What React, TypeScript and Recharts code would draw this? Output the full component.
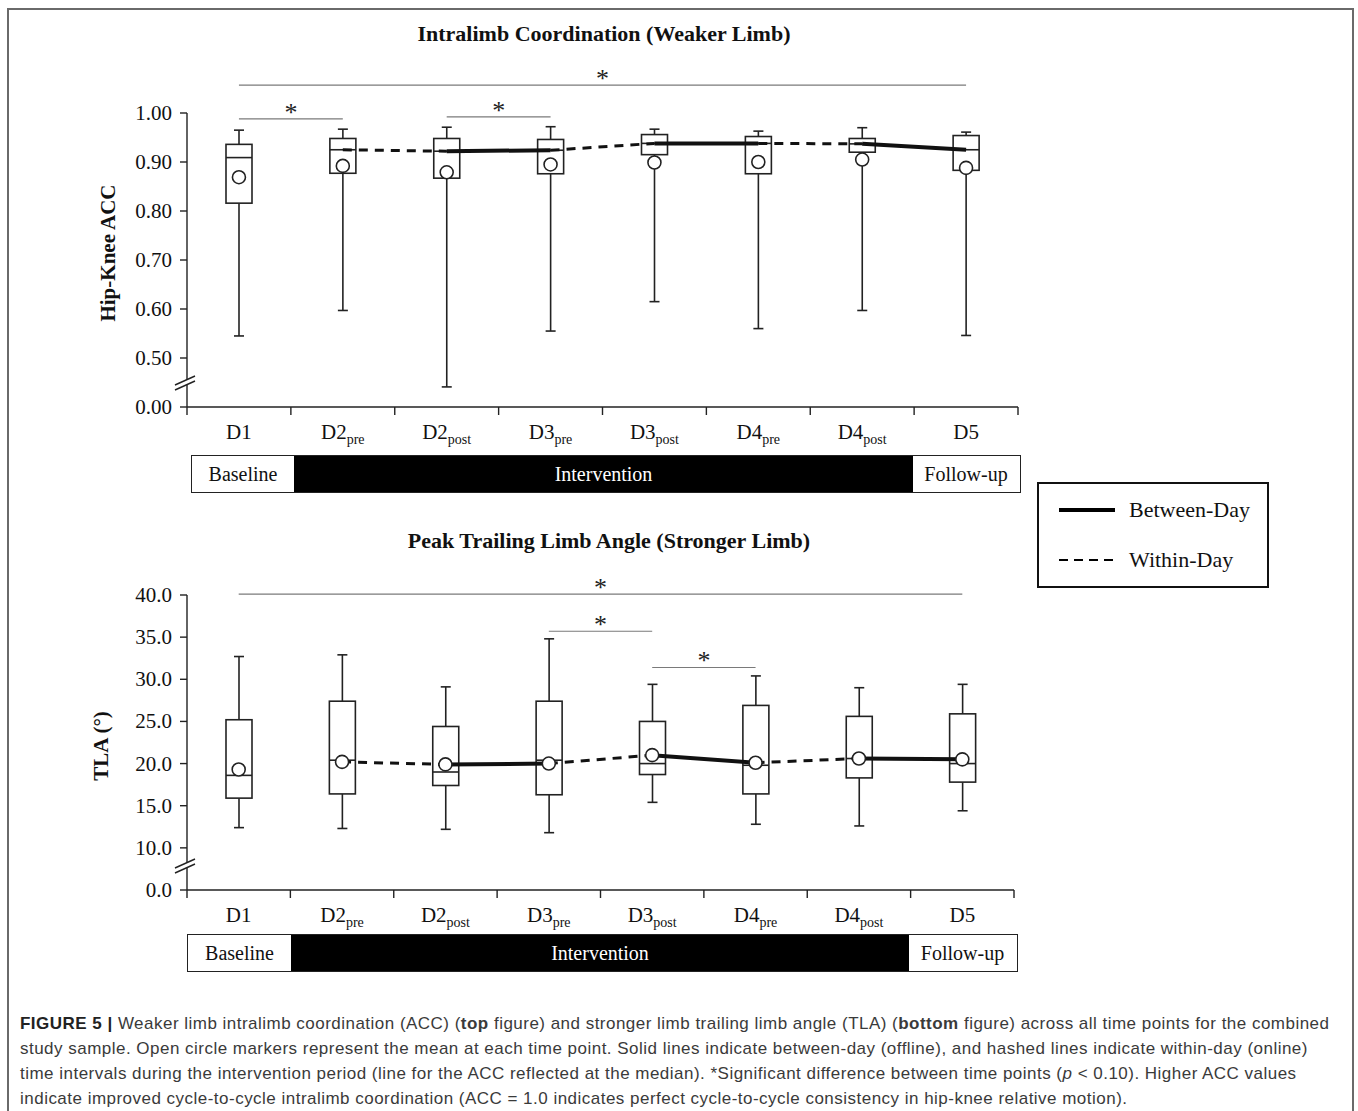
import React from "react";
import {
  ComposedChart,
  Bar,
  Line,
  Scatter,
  XAxis,
  YAxis,
  ReferenceLine,
} from "recharts";

const SERIF = '"Liberation Serif", "DejaVu Serif", serif';
const SANS = '"Liberation Sans", Arial, sans-serif';

// time points
const dayNames = ["D1", "D2", "D2", "D3", "D3", "D4", "D4", "D5"];
const dayPhases = ["", "pre", "post", "pre", "post", "pre", "post", ""];
const categories = dayNames.map((d, i) => d + dayPhases[i]);

// Hip-Knee ACC (weaker limb), read on the broken axis
const accMin = [0.545, 0.597, 0.441, 0.555, 0.615, 0.56, 0.597, 0.546];
const accQ1 = [0.816, 0.877, 0.867, 0.876, 0.915, 0.876, 0.92, 0.883];
const accMedian = [0.909, 0.925, 0.922, 0.924, 0.938, 0.938, 0.937, 0.925];
const accQ3 = [0.936, 0.948, 0.948, 0.946, 0.956, 0.952, 0.948, 0.954];
const accMax = [0.965, 0.967, 0.971, 0.972, 0.967, 0.963, 0.97, 0.961];
const accMean = [0.869, 0.892, 0.879, 0.895, 0.899, 0.9, 0.905, 0.888];
const accTicks = [0.4, 0.5, 0.6, 0.7, 0.8, 0.9, 1.0];

// Peak TLA (stronger limb)
const tlaMin = [12.4, 12.3, 12.2, 11.8, 15.4, 12.8, 12.6, 14.4];
const tlaQ1 = [15.9, 16.4, 17.4, 16.3, 18.7, 16.4, 18.3, 17.8];
const tlaMedian = [18.6, 20.4, 19.0, 20.4, 20.0, 19.8, 20.6, 20.0];
const tlaQ3 = [25.2, 27.4, 24.4, 27.4, 25.0, 26.9, 25.6, 25.9];
const tlaMax = [32.7, 32.9, 29.1, 34.8, 29.4, 30.4, 29.0, 29.4];
const tlaMean = [19.3, 20.2, 19.9, 20.0, 21.0, 20.1, 20.6, 20.5];
const tlaTicks = [5, 10, 15, 20, 25, 30, 35, 40];

// line segments (index pairs)
const betweenDay = [[2, 3], [4, 5], [6, 7]];
const withinDay = [[1, 2], [3, 4], [5, 6]];

// significance brackets
const accSig = [
  { from: 0, to: 7, y: 1.057 },
  { from: 0, to: 1, y: 0.988 },
  { from: 2, to: 3, y: 0.992 },
];
const tlaSig = [
  { from: 0, to: 7, y: 40.1 },
  { from: 3, to: 4, y: 35.7 },
  { from: 4, to: 5, y: 31.4 },
];

function buildRows(min, q1, med, q3, max, mean, lineVals) {
  return categories.map((name, i) => {
    const row: any = { name, min: min[i], q1: q1[i], med: med[i], q3: q3[i], max: max[i], mean: mean[i] };
    betweenDay.forEach(([a, b], k) => {
      row["b" + k] = i === a || i === b ? lineVals[i] : null;
    });
    withinDay.forEach(([a, b], k) => {
      row["w" + k] = i === a || i === b ? lineVals[i] : null;
    });
    return row;
  });
}

const accRows = buildRows(accMin, accQ1, accMedian, accQ3, accMax, accMean, accMedian);
const tlaRows = buildRows(tlaMin, tlaQ1, tlaMedian, tlaQ3, tlaMax, tlaMean, tlaMean);

const INK = "#222";

function BoxShape(props: any) {
  const { x, y, width, height, payload } = props;
  if (x == null || !payload) return null;
  const top = Math.min(y, y + height);
  const bot = Math.max(y, y + height);
  const span = payload.max - payload.min || 1;
  const py = (v: number) => bot - ((v - payload.min) / span) * (bot - top);
  const cx = x + width / 2;
  const cap = 5;
  return (
    <g stroke={INK} strokeWidth={1.6} fill="none">
      <line x1={cx} y1={py(payload.max)} x2={cx} y2={py(payload.q3)} />
      <line x1={cx} y1={py(payload.q1)} x2={cx} y2={py(payload.min)} />
      <line x1={cx - cap} y1={py(payload.max)} x2={cx + cap} y2={py(payload.max)} />
      <line x1={cx - cap} y1={py(payload.min)} x2={cx + cap} y2={py(payload.min)} />
      <rect x={x} y={py(payload.q3)} width={width} height={py(payload.q1) - py(payload.q3)} fill="#fff" />
      <line x1={x} y1={py(payload.med)} x2={x + width} y2={py(payload.med)} />
    </g>
  );
}

function MeanDot(props: any) {
  const { cx, cy } = props;
  if (cx == null || cy == null) return null;
  return <circle cx={cx} cy={cy} r={6.5} fill="#fff" stroke={INK} strokeWidth={1.6} />;
}

function makeXTick(half: number) {
  return (p: any) => {
    const { x, y, index } = p;
    const last = index === categories.length - 1;
    const sub = dayPhases[index];
    return (
      <g>
        <line x1={x - half} y1={y} x2={x - half} y2={y + 8} stroke={INK} strokeWidth={1.4} />
        {last && <line x1={x + half} y1={y} x2={x + half} y2={y + 8} stroke={INK} strokeWidth={1.4} />}
        <text x={x} y={y + 32} textAnchor="middle" fontFamily={SERIF} fontSize={21} fill="#111">
          {dayNames[index]}
          {sub && (
            <tspan fontSize={14} dy={5}>
              {sub}
            </tspan>
          )}
        </text>
      </g>
    );
  };
}

function makeYTick(format: (v: number) => string, breakValue: number, axisX: number) {
  return (p: any) => {
    const { x, y, payload } = p;
    const isBreak = payload.value === breakValue;
    return (
      <g>
        <text x={x} y={y} dy={7} textAnchor="end" fontFamily={SERIF} fontSize={21} fill="#111">
          {format(payload.value)}
        </text>
        {isBreak && (
          <g>
            <polygon
              points={`${axisX - 12},${y - 17} ${axisX + 8},${y - 26} ${axisX + 8},${y - 31} ${axisX - 12},${y - 22}`}
              fill="#fff"
            />
            <line x1={axisX - 12} y1={y - 17} x2={axisX + 8} y2={y - 26} stroke={INK} strokeWidth={1.4} />
            <line x1={axisX - 12} y1={y - 22} x2={axisX + 8} y2={y - 31} stroke={INK} strokeWidth={1.4} />
          </g>
        )}
      </g>
    );
  };
}

function BoxChart({
  rows,
  domain,
  ticks,
  format,
  sig,
  yLabel,
  labelX,
  labelY,
  margin,
  height,
}: any) {
  const plotW = 1358 - margin.left - margin.right - 187;
  const half = plotW / categories.length / 2;
  return (
    <ComposedChart width={1358} height={height} data={rows} margin={margin}>
      <XAxis
        dataKey="name"
        tick={makeXTick(half)}
        tickLine={false}
        tickSize={0}
        tickMargin={0}
        axisLine={{ stroke: INK, strokeWidth: 1.4 }}
        height={60}
        interval={0}
      />
      <YAxis
        type="number"
        domain={domain}
        ticks={ticks}
        width={187}
        tick={makeYTick(format, ticks[0], 187 + margin.left)}
        tickSize={7}
        tickMargin={8}
        tickLine={{ stroke: INK, strokeWidth: 1.4 }}
        axisLine={{ stroke: INK, strokeWidth: 1.4 }}
        allowDataOverflow
        label={() => (
          <text
            x={labelX}
            y={labelY}
            transform={`rotate(-90 ${labelX} ${labelY})`}
            textAnchor="middle"
            dominantBaseline="central"
            fontFamily={SERIF}
            fontWeight="bold"
            fontSize={21}
            fill="#111"
          >
            {yLabel}
          </text>
        )}
      />
      <Bar dataKey={(d: any) => [d.min, d.max]} barSize={26} shape={BoxShape} isAnimationActive={false} />
      {withinDay.map((_, k) => (
        <Line
          key={"w" + k}
          dataKey={"w" + k}
          stroke="#111"
          strokeWidth={3}
          strokeDasharray="9 7"
          dot={false}
          activeDot={false}
          isAnimationActive={false}
        />
      ))}
      {betweenDay.map((_, k) => (
        <Line
          key={"b" + k}
          dataKey={"b" + k}
          stroke="#111"
          strokeWidth={4}
          dot={false}
          activeDot={false}
          isAnimationActive={false}
        />
      ))}
      <Scatter dataKey="mean" shape={MeanDot} isAnimationActive={false} />
      {sig.map((s: any, k: number) => (
        <ReferenceLine
          key={"s" + k}
          segment={[
            { x: categories[s.from], y: s.y },
            { x: categories[s.to], y: s.y },
          ]}
          stroke="#7a7a7a"
          strokeWidth={1.2}
          ifOverflow="visible"
          label={{ value: "*", position: "top", offset: -2, fontSize: 26, fill: "#222", fontFamily: SERIF }}
        />
      ))}
    </ComposedChart>
  );
}

function PhaseBar({ left, top, width, blackFrom, blackTo }: any) {
  const cell = (w: number, dark: boolean, text: string) => (
    <div
      style={{
        width: w,
        height: "100%",
        background: dark ? "#000" : "#fff",
        color: dark ? "#fff" : "#111",
        display: "flex",
        alignItems: "center",
        justifyContent: "center",
        fontSize: 20,
        fontFamily: SERIF,
      }}
    >
      {text}
    </div>
  );
  return (
    <div
      style={{
        position: "absolute",
        left,
        top,
        width,
        height: 38,
        border: "1.5px solid #222",
        boxSizing: "border-box",
        display: "flex",
      }}
    >
      {cell(blackFrom - left, false, "Baseline")}
      {cell(blackTo - blackFrom, true, "Intervention")}
      {cell(left + width - blackTo - 3, false, "Follow-up")}
    </div>
  );
}

export default function App() {
  return (
    <div
      style={{
        position: "absolute",
        left: 0,
        top: 0,
        width: 1358,
        height: 1111,
        overflow: "hidden",
        background: "#fff",
        fontFamily: SERIF,
      }}
    >
      <div
        style={{
          position: "absolute",
          left: 7,
          top: 8,
          width: 1347,
          height: 1130,
          border: "2px solid #6a6a6a",
          boxSizing: "border-box",
        }}
      />
      <div
        style={{
          position: "absolute",
          left: 187,
          width: 834,
          top: 21,
          textAlign: "center",
          fontSize: 22,
          fontWeight: "bold",
          color: "#111",
        }}
      >
        Intralimb Coordination (Weaker Limb)
      </div>
      <div style={{ position: "absolute", left: 0, top: 0 }}>
        <BoxChart
          rows={accRows}
          domain={[0.4, 1.0]}
          ticks={accTicks}
          format={(v: number) => (v === 0.4 ? "0.00" : v.toFixed(2))}
          sig={accSig}
          yLabel="Hip-Knee ACC"
          labelX={108}
          labelY={253}
          margin={{ top: 113, right: 340, bottom: 33, left: 0 }}
          height={500}
        />
      </div>
      <PhaseBar left={191} top={455} width={830} blackFrom={293} blackTo={912} />

      <div
        style={{
          position: "absolute",
          left: 187,
          width: 844,
          top: 528,
          textAlign: "center",
          fontSize: 22,
          fontWeight: "bold",
          color: "#111",
        }}
      >
        Peak Trailing Limb Angle (Stronger Limb)
      </div>
      <div style={{ position: "absolute", left: 0, top: 500 }}>
        <BoxChart
          rows={tlaRows}
          domain={[5, 40]}
          ticks={tlaTicks}
          format={(v: number) => (v === 5 ? "0.0" : v.toFixed(1))}
          sig={tlaSig}
          yLabel="TLA (°)"
          labelX={101}
          labelY={246}
          margin={{ top: 95, right: 344, bottom: 50, left: 0 }}
          height={500}
        />
      </div>
      <PhaseBar left={187} top={934} width={831} blackFrom={290} blackTo={908} />

      {/* legend */}
      <div
        style={{
          position: "absolute",
          left: 1037,
          top: 482,
          width: 232,
          height: 106,
          border: "2px solid #111",
          boxSizing: "border-box",
        }}
      >
        <svg width={228} height={102} style={{ position: "absolute", left: 0, top: 0 }}>
          <line x1={20} y1={26} x2={76} y2={26} stroke="#000" strokeWidth={4} />
          <text x={90} y={33} fontFamily={SERIF} fontSize={22} fill="#111">
            Between-Day
          </text>
          <line x1={20} y1={76} x2={76} y2={76} stroke="#000" strokeWidth={2} strokeDasharray="9 6" />
          <text x={90} y={83} fontFamily={SERIF} fontSize={22} fill="#111">
            Within-Day
          </text>
        </svg>
      </div>

      {/* caption */}
      <div
        style={{
          position: "absolute",
          left: 20,
          top: 1011,
          fontFamily: SANS,
          fontSize: 17,
          letterSpacing: 0.48,
          lineHeight: "25px",
          color: "#3a3a3a",
          whiteSpace: "nowrap",
        }}
      >
        <div>
          <b style={{ color: "#222" }}>FIGURE 5 |</b> Weaker limb intralimb coordination (ACC) (<b>top</b> figure)
          and stronger limb trailing limb angle (TLA) (<b>bottom</b> figure) across all time points for the combined
        </div>
        <div>
          study sample. Open circle markers represent the mean at each time point. Solid lines indicate between-day
          (offline), and hashed lines indicate within-day (online)
        </div>
        <div>
          time intervals during the intervention period (line for the ACC reflected at the median). *Significant
          difference between time points (<i>p</i> &lt; 0.10). Higher ACC values
        </div>
        <div>
          indicate improved cycle-to-cycle intralimb coordination (ACC = 1.0 indicates perfect cycle-to-cycle
          consistency in hip-knee relative motion).
        </div>
      </div>
    </div>
  );
}
